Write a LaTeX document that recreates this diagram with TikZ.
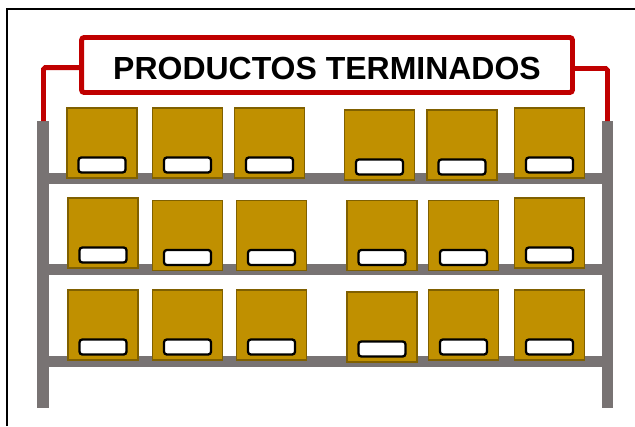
\documentclass[tikz,border=0pt]{standalone}
\usepackage{fontspec}
\setmainfont{Liberation Sans}
\definecolor{rack gray}{HTML}{787373}
\definecolor{sign red}{HTML}{C00000}
\definecolor{crate fill}{HTML}{C09000}
\definecolor{crate edge}{HTML}{806000}
\def\leftpost{(37,121) rectangle (49,408)}
\def\rightpost{(602,121) rectangle (613,408)}
\tikzset{crate/.style={rectangle, fill=crate fill, draw=crate edge, line width=1.1pt,
        minimum width=1.4cm, minimum height=1.4cm, inner sep=0pt},
    tag/.style={rectangle, rounded corners=1.6pt, fill=white, draw=black, line width=1.3pt,
        minimum width=0.94cm, minimum height=0.3cm, inner sep=0pt},
    bracket/.style={draw=sign red, line width=2.8pt}}

\begin{document}
\begin{tikzpicture}[x=0.02cm, y=-0.02cm]

    \useasboundingbox (0,0) rectangle (635,426);
    \draw[line width=1.1pt] (7,426) -- (7,9) -- (635,9);

    % rack
    \fill[rack gray] \leftpost;
    \fill[rack gray] \rightpost;
    \foreach \y in {178.5,269.5,361.5}
        \fill[rack gray] (49,\y-5.5) rectangle (602,\y+5.5);
    \coordinate (lpost) at (43.5,121);
    \coordinate (rpost) at (607.5,121);

    % sign
    \node[bracket, rectangle, rounded corners=1.5pt, minimum width=9.82cm, minimum height=1.1cm,
        text height=0.6cm, text depth=0pt,
        font=\bfseries\fontsize{18.2}{20}\selectfont] (sign) at (327,65) {PRODUCTOS TERMINADOS};
    \draw[bracket, rounded corners=1pt] ([yshift=-1.5]sign.west) -| (lpost);
    \draw[bracket, rounded corners=1pt] ([yshift=-2]sign.east) -| (rpost);

    % crates
    \foreach \pos [count=\i] in {(102,143),(187.5,143),(269.5,143),(379.5,145),(462,145),(549.5,143),
            (103,233),(187.5,235.5),(271.5,235.5),(382,235.5),(463.5,235.5),(549.5,233),
            (103,325),(187.5,325),(271.5,325),(382,327),(463.5,325),(549.5,325)} {
        \node[crate] (box\i) at \pos {};
        \node[tag] (tag\i) at ([yshift=-0.44cm]box\i.center) {};
    }

\end{tikzpicture}
\end{document}
